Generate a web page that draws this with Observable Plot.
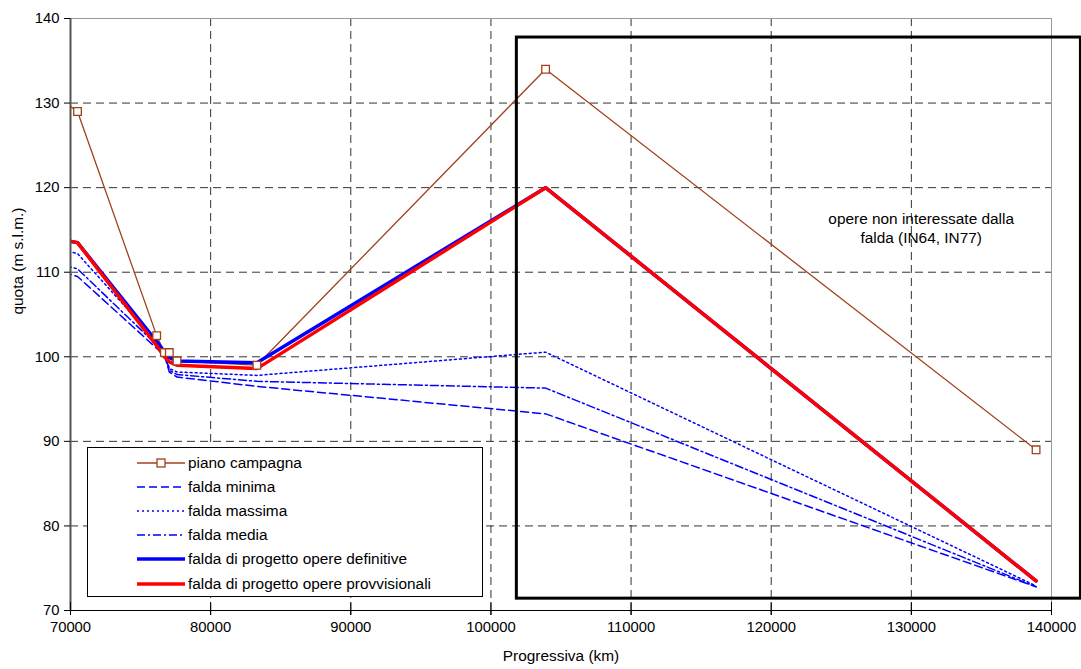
<!DOCTYPE html>
<html><head><meta charset="utf-8">
<script src="https://cdn.jsdelivr.net/npm/d3@7"></script>
<script src="https://cdn.jsdelivr.net/npm/@observablehq/plot@0.6"></script>
<style>
body{margin:0;background:#fff;font-family:"Liberation Sans",Arial,sans-serif;}
#wrap{position:relative;width:1081px;height:669px;overflow:hidden;}
#legend{position:absolute;left:87px;top:447px;width:396px;height:150px;border:1px solid #000;background:#fff;box-sizing:border-box;}
.row{position:absolute;left:0;height:20px;display:flex;align-items:center;font-size:15.4px;color:#000;white-space:nowrap;}
.row svg{margin-left:49px;margin-right:3px;}
</style></head><body><div id="wrap"><div id="legend"></div></div>
<script>
// ---- data ----
const progressiva = [69500, 70500, 76150, 76700, 77050, 77600, 83300, 103900, 138900];
const pianoCampagna = [130.2, 129.0, 102.5, 100.5, 100.5, 99.5, 99.0, 134.0, 89.0];
const faldaMinima   = [110.0, 109.5, 101.0, 100.2, 98.2, 97.6, 96.5, 93.25, 72.8];
const faldaMassima  = [112.6, 112.2, 101.8, 100.8, 98.6, 98.2, 97.8, 100.55, 72.9];
const faldaMedia    = [110.8, 110.4, 101.4, 100.5, 98.4, 97.9, 97.1, 96.3, 72.8];
const faldaDefinitive   = [113.8, 113.5, 101.8, 100.6, 99.9, 99.5, 99.3, 120.0, 73.5];
const faldaProvvisionali = [113.8, 113.5, 101.3, 100.0, 99.4, 99.0, 98.6, 120.0, 73.5];
const seriesNames = ["piano campagna", "falda minima", "falda massima", "falda media",
  "falda di progetto opere definitive", "falda di progetto opere provvisionali"];
const seriesValues = [pianoCampagna, faldaMinima, faldaMassima, faldaMedia, faldaDefinitive, faldaProvvisionali];
const xTicks = [70000, 80000, 90000, 100000, 110000, 120000, 130000, 140000];
const yTicks = [70, 80, 90, 100, 110, 120, 130, 140];
const xGrid = [80000, 90000, 100000, 110000, 120000, 130000];
const yGrid = [80, 90, 100, 110, 120, 130];
const boxProgressiva = [101850, 142100];
const boxQuota = [71.4, 137.75];
const noteText = ["opere non interessate dalla\nfalda (IN64, IN77)", "``"];
const noteProgressiva = [130700, 102400];
const noteQuota = [115.3, 137.3];
const xLabel = "Progressiva (km)";
const yLabel = "quota (m s.l.m.)";

// ---- styles ----
const styles = [
  {stroke:"#a0421a", width:1.3, dash:null},
  {stroke:"#0000ff", width:1.5, dash:"8,4"},
  {stroke:"#0000ff", width:1.5, dash:"2,3"},
  {stroke:"#0000ff", width:1.5, dash:"8,3,2,3"},
  {stroke:"#0000ff", width:3.5, dash:null},
  {stroke:"#ff0000", width:3.5, dash:null}
];

const rows = [];
seriesNames.forEach((name, i) => progressiva.forEach((p, j) => rows.push({series: name, i, x: p, y: seriesValues[i][j]})));

const lineMarks = seriesNames.map((name, i) => Plot.line(rows.filter(d => d.i === i), {
  x: "x", y: "y", stroke: styles[i].stroke, strokeWidth: styles[i].width,
  strokeDasharray: styles[i].dash, strokeLinejoin: "miter", clip: true
}));

const notes = noteText.map((t, i) => ({t, x: noteProgressiva[i], y: noteQuota[i], i}));
const box = [{x1: boxProgressiva[0], x2: boxProgressiva[1], y1: boxQuota[0], y2: boxQuota[1]}];

const chart = Plot.plot({
  width: 1081, height: 669,
  marginLeft: 70, marginRight: 30, marginTop: 18, marginBottom: 59,
  x: {domain: [70000, 140000]},
  y: {domain: [70, 140]},
  style: {fontFamily: '"Liberation Sans", Arial, sans-serif', fontSize: "15px", background: "white", overflow: "visible", color: "#000"},
  marks: [
    Plot.ruleX(xGrid, {stroke: "#333", strokeDasharray: "8,5", strokeWidth: 1}),
    Plot.ruleY(yGrid, {stroke: "#333", strokeDasharray: "8,5", strokeWidth: 1}),
    Plot.ruleY([140], {stroke: "#999"}),
    Plot.ruleX([140000], {stroke: "#999"}),
    ...lineMarks,
    Plot.dot(rows.filter(d => d.i === 0), {x: "x", y: "y", symbol: "square", r: 4.3, fill: "white", stroke: "#a0421a", strokeWidth: 1.3, clip: true}),
    Plot.rect(box, {x1: "x1", x2: "x2", y1: "y1", y2: "y2", fill: "none", stroke: "#000", strokeWidth: 3}),
    Plot.text(notes.filter(d => d.i === 0), {x: "x", y: "y", text: "t", fontSize: 15.4, lineHeight: 1.25, fill: "#000"}),
    Plot.text(notes.filter(d => d.i === 1), {x: "x", y: "y", text: "t", fontSize: 10, fill: "#000"}),
    Plot.ruleX([70000], {stroke: "#555", strokeWidth: 2}),
    Plot.ruleY([70], {stroke: "#000"}),
    Plot.axisY(yTicks, {anchor: "left", tickSize: 6, tickPadding: 5, label: null, fontSize: 14.8, tickFormat: d => String(d)}),
    Plot.axisX(xTicks, {anchor: "bottom", tickSize: 5, tickPadding: 6, label: null, fontSize: 14.8, tickFormat: d => String(d)}),
    Plot.axisX(xTicks, {anchor: "bottom", tickSize: 13, dy: -8, label: null, tickFormat: () => ""}),
    Plot.text([yLabel], {frameAnchor: "left", rotate: -90, dx: -52, fontSize: 15.4, fill: "#000"}),
    Plot.text([xLabel], {frameAnchor: "bottom", dy: 50, fontSize: 15.4, fill: "#000"})
  ]
});
document.getElementById("wrap").prepend(chart);

// ---- legend ----
const legend = document.getElementById("legend");
seriesNames.forEach((name, i) => {
  const row = document.createElement("div");
  row.className = "row";
  row.style.top = (4.5 + i * 24.2) + "px";
  const s = styles[i];
  const ns = "http://www.w3.org/2000/svg";
  const svg = document.createElementNS(ns, "svg");
  svg.setAttribute("width", 48); svg.setAttribute("height", 12);
  const ln = document.createElementNS(ns, "line");
  ln.setAttribute("x1", 0); ln.setAttribute("x2", 48); ln.setAttribute("y1", 6); ln.setAttribute("y2", 6);
  ln.setAttribute("stroke", s.stroke); ln.setAttribute("stroke-width", s.width);
  if (s.dash) ln.setAttribute("stroke-dasharray", s.dash);
  svg.appendChild(ln);
  if (i === 0) {
    const r = document.createElementNS(ns, "rect");
    r.setAttribute("x", 20); r.setAttribute("y", 2); r.setAttribute("width", 8); r.setAttribute("height", 8);
    r.setAttribute("fill", "white"); r.setAttribute("stroke", s.stroke); r.setAttribute("stroke-width", 1.3);
    svg.appendChild(r);
  }
  row.appendChild(svg);
  const span = document.createElement("span");
  span.textContent = name;
  row.appendChild(span);
  legend.appendChild(row);
});
</script>
</body></html>
